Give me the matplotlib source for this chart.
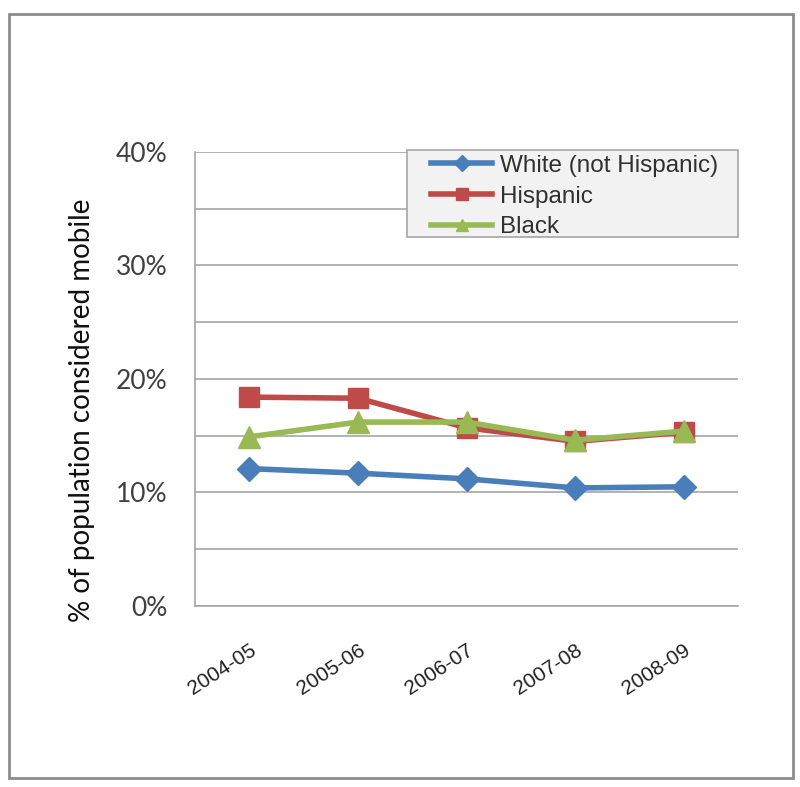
import matplotlib
matplotlib.use("Agg")
import matplotlib.pyplot as plt
from matplotlib.patches import Rectangle

years = ["2004-05", "2005-06", "2006-07", "2007-08", "2008-09"]
white = [12.1, 11.7, 11.2, 10.4, 10.5]
hispanic = [18.4, 18.3, 15.7, 14.5, 15.3]
black = [14.9, 16.2, 16.2, 14.6, 15.4]

plt.rcParams["font.family"] = ["Liberation Sans", "DejaVu Sans"]

fig = plt.figure(figsize=(8, 7.87), dpi=100)
fig.patches.append(Rectangle((0.011, 0.012), 0.98, 0.97, transform=fig.transFigure,
                             fill=False, edgecolor="#8c8c8c", linewidth=2))

ax = fig.add_axes([0.244, 0.23, 0.6785, 0.577])
x = list(range(len(years)))

ax.plot(x, white, color="#4A7EBB", lw=4, marker="D", ms=12, label="White (not Hispanic)")
ax.plot(x, hispanic, color="#BE4B48", lw=4, marker="s", ms=15, label="Hispanic")
ax.plot(x, black, color="#98B954", lw=4, marker="^", ms=16, label="Black")

ax.set_xlim(-0.5, len(years) - 0.5)
ax.set_ylim(0, 40)
ax.set_yticks(range(0, 41, 5))
ax.set_yticklabels([f"{v}%" if v % 10 == 0 else "" for v in range(0, 41, 5)],
                   fontsize=19, family=["Lato", "DejaVu Sans"], color="#404040")
ax.set_xticks(x)
ax.set_xticklabels(years, rotation=33, ha="right", va="top", rotation_mode="anchor",
                   fontsize=15, color="#202020")
ax.tick_params(axis="y", length=0, pad=20)
ax.tick_params(axis="x", length=0, pad=25)
ax.grid(axis="y", color="#a6a6a6", lw=1.2)
ax.set_axisbelow(True)
for s in ["top", "right"]:
    ax.spines[s].set_visible(False)
for s in ["left", "bottom"]:
    ax.spines[s].set_color("#a6a6a6")
    ax.spines[s].set_linewidth(1.2)

ax.set_ylabel("% of population considered mobile", fontsize=20,
              family=["Lato", "DejaVu Sans"], color="#101010")
ax.yaxis.set_label_coords(-0.185, 0.43)

# legend box drawn by hand so the padding can match
ax.add_patch(Rectangle((0.39, 0.813), 0.61, 0.191, transform=ax.transAxes,
                       facecolor="#f2f2f2", edgecolor="#a6a6a6", lw=1.2,
                       clip_on=False, zorder=4))
leg = ax.legend(loc="upper left", bbox_to_anchor=(0.433, 0.996),
                fontsize=17.5, handlelength=2.5, handletextpad=0.3, labelspacing=0.36,
                frameon=False, borderpad=0.05, borderaxespad=0)
leg.set_zorder(5)
for t in leg.get_texts():
    t.set_color("#303030")
for h in leg.legend_handles:
    h.set_markersize(8)
    h.set_linewidth(4)

fig.savefig("out.png", dpi=100)
